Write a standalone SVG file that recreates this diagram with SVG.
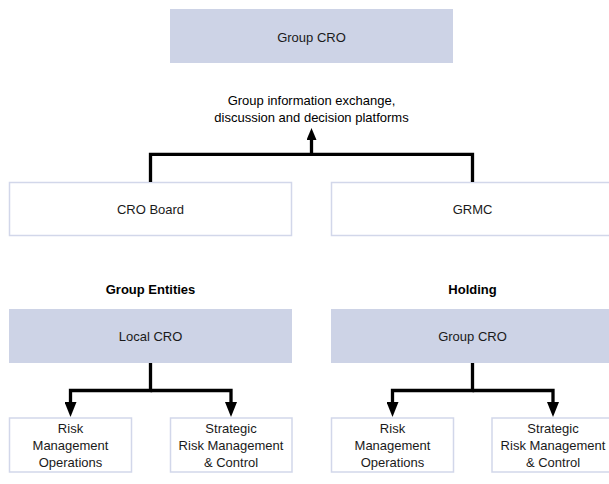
<svg xmlns="http://www.w3.org/2000/svg" width="609" height="484" viewBox="0 0 609 484">
<style>
  .fill { fill: #cdd3e6; stroke: none; }
  .box { fill: #ffffff; stroke: #d2d7ea; stroke-width: 1.5; }
  text { font-family: "Liberation Sans", Arial, sans-serif; font-size: 13px; fill: #1a1a1a; text-anchor: middle; }
  .bold { font-weight: bold; fill: #000; }
  .lbl { fill: #000; }
  .conn { fill: none; stroke: #000; stroke-width: 3.3; stroke-linejoin: miter; stroke-linecap: butt; }
</style>
<defs>
  <marker id="ah" markerUnits="userSpaceOnUse" viewBox="0 0 15 12" refX="0" refY="6" markerWidth="15" markerHeight="12" orient="auto">
    <path d="M0,0 L15,6 L0,12 z" fill="#000"/>
  </marker>
  <marker id="ahs" markerUnits="userSpaceOnUse" viewBox="0 0 12 10" refX="0" refY="5" markerWidth="12" markerHeight="10" orient="auto">
    <path d="M0,0 L12,5 L0,10 z" fill="#000"/>
  </marker>
</defs>

<g id="group-cro-top">
  <rect class="fill" x="170" y="9" width="283" height="54"/>
  <text x="311.5" y="42">Group CRO</text>
</g>

<g id="platform-label">
  <text class="lbl" x="311.5" y="105">Group information exchange,</text>
  <text class="lbl" x="311.5" y="122">discussion and decision platforms</text>
</g>

<g id="cro-board">
  <rect class="box" x="9.5" y="182.5" width="282" height="53"/>
  <text x="150.5" y="214">CRO Board</text>
</g>

<g id="grmc">
  <rect class="box" x="331.5" y="182.5" width="282" height="53"/>
  <text x="472.5" y="214">GRMC</text>
</g>

<g id="group-entities-title">
  <text class="bold" x="150.5" y="294">Group Entities</text>
</g>
<g id="holding-title">
  <text class="bold" x="472.5" y="294">Holding</text>
</g>

<g id="local-cro">
  <rect class="fill" x="9" y="309" width="283" height="54"/>
  <text x="150.5" y="341">Local CRO</text>
</g>

<g id="group-cro-holding">
  <rect class="fill" x="331" y="309" width="283" height="54"/>
  <text x="472.5" y="341">Group CRO</text>
</g>

<g id="ge-risk-ops">
  <rect class="box" x="9.5" y="418" width="122" height="54"/>
  <text x="70.5" y="433">Risk</text>
  <text x="70.5" y="450">Management</text>
  <text x="70.5" y="467">Operations</text>
</g>

<g id="ge-strategic">
  <rect class="box" x="170.5" y="418" width="121.5" height="54"/>
  <text x="231" y="433">Strategic</text>
  <text x="231" y="450">Risk Management</text>
  <text x="231" y="467">&amp; Control</text>
</g>

<g id="h-risk-ops">
  <rect class="box" x="331.5" y="418" width="122" height="54"/>
  <text x="392.5" y="433">Risk</text>
  <text x="392.5" y="450">Management</text>
  <text x="392.5" y="467">Operations</text>
</g>

<g id="h-strategic">
  <rect class="box" x="492" y="418" width="122" height="54"/>
  <text x="553" y="433">Strategic</text>
  <text x="553" y="450">Risk Management</text>
  <text x="553" y="467">&amp; Control</text>
</g>

<g id="connectors">
  <path class="conn" d="M150.5,182 V154.3 H472.5 V182"/>
  <path class="conn" d="M311.5,154.3 V140" marker-end="url(#ahs)"/>
  <path class="conn" d="M150.5,363 V390.5 H70.5 V402" marker-end="url(#ah)"/>
  <path class="conn" d="M150.5,390.5 H231 V402" marker-end="url(#ah)"/>
  <path class="conn" d="M472.5,363 V390.5 H392.5 V402" marker-end="url(#ah)"/>
  <path class="conn" d="M472.5,390.5 H553 V402" marker-end="url(#ah)"/>
</g>
</svg>
